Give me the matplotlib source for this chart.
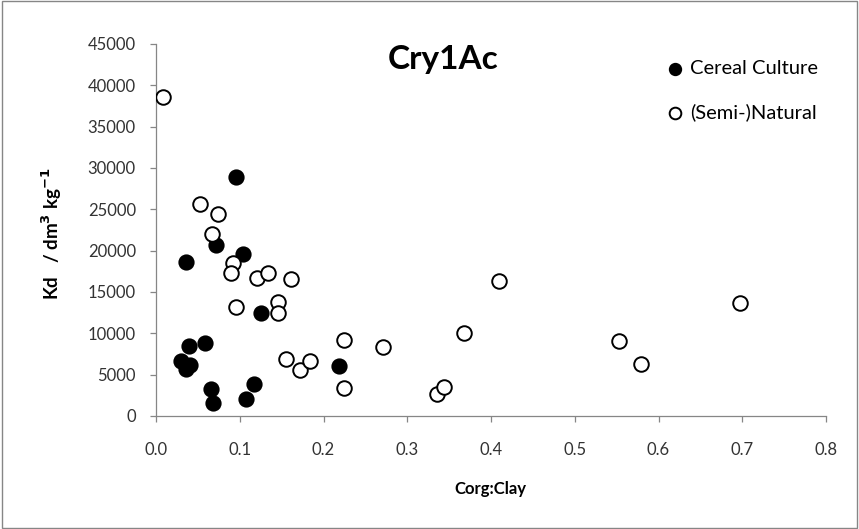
import matplotlib
matplotlib.use('Agg')
import matplotlib.pyplot as plt

# Corg:Clay ratio and Kd (dm3/kg)
cereal_x = [0.095, 0.072, 0.104, 0.036, 0.125, 0.039, 0.059, 0.030, 0.041,
            0.036, 0.066, 0.068, 0.108, 0.117, 0.219]
cereal_y = [28880, 20670, 19550, 18670, 12460, 8450, 8860, 6610, 6130,
            5730, 3210, 1600, 2000, 3930, 6010]

natural_x = [0.008, 0.053, 0.074, 0.067, 0.092, 0.089, 0.120, 0.134, 0.161,
             0.096, 0.146, 0.146, 0.155, 0.172, 0.184, 0.225, 0.225, 0.271,
             0.368, 0.410, 0.336, 0.344, 0.553, 0.579, 0.697]
natural_y = [38580, 25640, 24430, 22030, 18550, 17270, 16740, 17270, 16550,
             13140, 13740, 12460, 6850, 5610, 6610, 9250, 3400, 8330,
             10010, 16350, 2640, 3450, 9050, 6330, 13620]

plt.rcParams['font.family'] = ['Lato', 'DejaVu Sans']

W, H = 859, 529
fig = plt.figure(figsize=(W / 100, H / 100), dpi=100)
ax = fig.add_axes([156 / W, 1 - 416 / H, 670 / W, 372 / H])

ax.scatter(cereal_x, cereal_y, s=110, facecolor='black', edgecolor='black',
           linewidth=1.2, label='Cereal Culture', zorder=3)
ax.scatter(natural_x, natural_y, s=110, facecolor='white', edgecolor='black',
           linewidth=1.4, label='(Semi-)Natural', zorder=3)

ax.set_xlim(0, 0.8)
ax.set_ylim(0, 45000)
ax.set_xticks([i / 10 for i in range(9)])
ax.set_xticklabels(['%.1f' % (i / 10) for i in range(9)])
ax.set_yticks(range(0, 45001, 5000))

for side in ['top', 'right']:
    ax.spines[side].set_visible(False)
for side in ['left', 'bottom']:
    ax.spines[side].set_color('#868686')
    ax.spines[side].set_linewidth(0.9)
ax.tick_params(colors='#868686', labelcolor='#333333', labelsize=12,
               length=4.5, width=0.9, direction='out')
ax.tick_params(axis='y', pad=10)
ax.tick_params(axis='x', pad=14)

# title and axis labels placed like the original chart
fig.text(443 / W, 1 - 60 / H, 'Cry1Ac', fontsize=24, fontweight='bold',
         ha='center', va='center')
fig.text(490 / W, 1 - 489 / H, 'Corg:Clay', fontsize=12, fontweight='bold',
         ha='center', va='center')
fig.text(52 / W, 1 - 234 / H, 'Kd   / dm$^\\mathbf{3}$ kg$^\\mathbf{-1}$',
         fontsize=13.5, fontweight='bold', rotation=90,
         ha='center', va='center')

ax.legend(loc='upper left', bbox_to_anchor=(667 / W, 1 - 60 / H),
          bbox_transform=fig.transFigure, frameon=False, fontsize=14.5,
          handlelength=0.8, handletextpad=0.35, labelspacing=1.3,
          borderpad=0, borderaxespad=0, markerscale=0.8)

# chart frame
fig.patches.append(plt.Rectangle((0.002, 0.002), 0.996, 0.996, fill=False,
                                 edgecolor='#868686', linewidth=1,
                                 transform=fig.transFigure))

fig.savefig('out.png', dpi=100)
